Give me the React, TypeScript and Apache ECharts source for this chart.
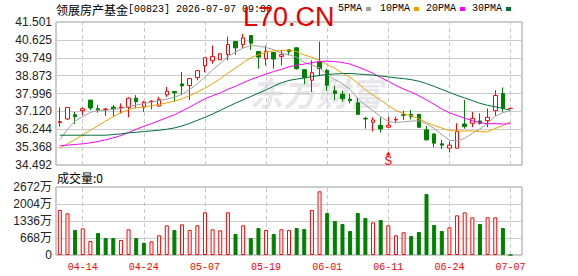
import React, { useEffect, useRef } from 'react';
import * as echarts from 'echarts';

const dates = ['04-09','04-10','04-13','04-14','04-15','04-16','04-17','04-20','04-21','04-22','04-23','04-24','04-27','04-28','04-29','04-30','05-04','05-05','05-06','05-07','05-08','05-11','05-12','05-13','05-14','05-15','05-18','05-19','05-20','05-21','05-22','05-26','05-27','05-28','05-29','06-01','06-02','06-03','06-04','06-05','06-08','06-09','06-10','06-11','06-12','06-15','06-16','06-17','06-18','06-22','06-23','06-24','06-25','06-26','06-29','06-30','07-02','07-03','07-06','07-07'];

const opens = [36.569,36.747,36.958,37.153,37.672,37.250,37.218,37.331,37.299,37.315,
  37.769,37.347,37.591,37.380,37.932,38.094,38.467,38.386,38.775,39.359,
  39.603,39.651,39.911,40.544,40.398,40.836,40.057,39.700,40.008,39.814,
  40.138,40.236,39.165,38.646,39.538,39.132,38.126,37.964,37.721,37.542,
  36.780,36.585,36.439,36.342,36.699,36.958,36.974,36.974,36.212,36.017,
  35.530,35.319,35.319,36.504,36.536,36.650,36.666,37.153,37.997,37.266];
const closes = [36.617,37.315,36.861,37.250,37.283,37.185,37.234,37.234,37.331,37.769,
  37.591,37.575,37.623,37.704,38.110,38.029,38.370,38.727,39.116,39.749,
  39.814,39.944,40.398,40.236,40.722,40.463,39.781,40.057,39.684,39.895,
  40.057,39.213,38.775,39.019,39.213,38.402,37.997,37.737,37.640,36.974,
  36.747,36.699,36.260,36.439,36.731,36.926,36.861,36.342,35.725,35.563,
  35.465,35.465,36.131,36.374,36.780,36.536,36.828,37.899,37.266,37.266];
const lows = [36.374,36.699,36.504,36.926,37.185,37.055,36.893,36.893,37.023,36.828,
  37.266,37.104,37.218,37.347,37.834,37.591,37.915,37.672,38.646,39.035,
  39.457,39.651,39.619,39.895,40.187,40.138,39.213,39.376,39.213,39.376,
  39.862,39.165,38.451,38.078,38.840,38.126,37.672,37.591,37.510,36.958,
  36.277,36.131,36.082,36.326,36.536,36.699,36.731,36.326,35.692,35.368,
  35.271,35.108,35.303,36.277,36.342,36.471,36.342,36.893,37.104,37.266];
const highs = [37.315,37.331,37.088,37.315,37.690,37.429,37.283,37.429,37.510,37.802,
  37.915,37.640,37.672,37.834,38.321,38.126,39.051,38.743,39.132,39.765,
  40.349,39.960,40.787,40.560,40.917,40.852,40.073,40.349,40.024,40.138,
  40.171,40.268,39.181,39.619,40.544,39.213,38.370,38.126,37.964,37.786,
  36.861,36.828,36.828,36.861,36.861,37.153,37.185,36.990,36.406,36.033,
  35.725,35.644,36.536,37.672,37.088,37.023,37.266,38.159,38.289,37.266];

const ma5 = [35.725,36.244,36.650,36.861,37.065,37.179,37.163,37.237,37.253,37.351,
  37.432,37.500,37.578,37.653,37.721,37.808,37.967,38.188,38.470,38.798,
  39.155,39.470,39.804,40.028,40.223,40.352,40.320,40.252,40.141,39.976,
  39.895,39.781,39.525,39.392,39.256,38.925,38.681,38.474,38.198,37.750,
  37.419,37.159,36.864,36.624,36.575,36.611,36.643,36.660,36.517,36.283,
  35.991,35.712,35.670,35.800,36.043,36.257,36.530,36.883,37.062,37.159];
const ma10 = [35.319,35.530,35.741,35.968,36.196,36.423,36.650,36.861,37.055,37.208,
  37.305,37.331,37.408,37.453,37.536,37.620,37.734,37.883,38.061,38.259,
  38.482,38.719,38.996,39.249,39.510,39.754,39.895,40.028,40.085,40.099,
  40.124,40.051,39.888,39.767,39.616,39.410,39.231,38.999,38.795,38.503,
  38.172,37.920,37.669,37.411,37.163,37.015,36.901,36.762,36.570,36.429,
  36.301,36.178,36.165,36.158,36.163,36.124,36.121,36.277,36.431,36.601];
const ma20 = [35.433,35.465,35.498,35.530,35.579,35.644,35.725,35.822,35.936,36.082,
  36.244,36.390,36.520,36.666,36.812,36.958,37.137,37.331,37.542,37.734,
  37.893,38.025,38.202,38.351,38.523,38.687,38.814,38.955,39.073,39.179,
  39.303,39.385,39.442,39.508,39.563,39.582,39.563,39.514,39.440,39.301,
  39.148,38.985,38.779,38.589,38.389,38.212,38.066,37.880,37.683,37.466,
  37.236,37.049,36.917,36.784,36.663,36.569,36.511,36.519,36.501,36.515];
const ma30 = [35.952,35.952,35.952,35.952,35.952,35.952,35.952,35.985,36.017,36.066,
  36.098,36.131,36.163,36.196,36.244,36.309,36.406,36.536,36.682,36.828,
  36.991,37.169,37.348,37.526,37.688,37.850,38.013,38.175,38.353,38.522,
  38.637,38.701,38.764,38.822,38.887,38.928,38.954,38.970,38.980,38.954,
  38.926,38.897,38.852,38.809,38.762,38.727,38.676,38.597,38.483,38.344,
  38.199,38.050,37.907,37.779,37.648,37.516,37.417,37.346,37.265,37.177];

// volume in 万
const volumes = [1768,1638,983,1048,550,865,668,668,590,1009,
  668,485,537,773,1166,983,1205,983,1166,1677,
  1009,969,1677,825,1166,668,1061,983,825,1009,
  983,1061,1022,1768,2502,1651,1336,1218,943,1651,
  1454,1284,1376,1166,773,891,747,904,2397,1179,
  943,1087,1559,1677,1480,1218,1480,1480,1061,0];
const volumeUp = [1,1,0,1,1,0,0,0,1,1,
  0,0,1,1,1,0,1,1,1,1,
  1,1,1,0,1,0,0,1,0,1,
  1,0,0,1,1,0,0,0,0,0,
  0,1,0,1,1,1,0,0,0,0,
  0,1,1,1,1,0,1,1,0,0];

const priceTicks = ['34.492','35.368','36.244','37.120','37.996','38.873','39.749','40.625','41.501'];
const priceMin = 34.492;
const priceMax = 41.501;
const volumeMax = 2672;
const volumeStep = 668;
const tickDates = ['04-14','04-24','05-07','05-19','06-01','06-11','06-24','07-07'];

const maNames = ['5PMA','10PMA','20PMA','30PMA'];
const maColors = ['#a0a0a0','#f2a000','#ff00ff','#00703a'];

const signalDates = ['06-11'];
const signalPrices = [35.06];
const signalLabels = ['S'];

const RED = '#ff0000';
const GREEN = '#008000';
const MONO = '"Liberation Mono", "DejaVu Sans Mono", monospace';
const CJK = '"Noto Sans CJK SC", sans-serif';
const SANS = 'Arial, "Liberation Sans", "Noto Sans CJK SC", sans-serif';

export default function App() {
  const ref = useRef<HTMLDivElement>(null);
  useEffect(() => {
    const chart = echarts.init(ref.current!, null, { renderer: 'svg' });
    const categories = [...dates, ''];
    const candleData = dates.map((_, i) => [opens[i], closes[i], lows[i], highs[i]]);
    const volData = volumes.map((v, i) => ({
      value: v,
      itemStyle: volumeUp[i]
        ? { color: '#ffffff', borderColor: RED, borderWidth: 1 }
        : { color: GREEN, borderColor: GREEN, borderWidth: 1 },
    }));
    const mas = [ma5, ma10, ma20, ma30];
    const vLines = {
      silent: true,
      symbol: ['none', 'none'],
      label: { show: false },
      z: 1,
      lineStyle: { color: '#c8c8c8', type: [4, 3], width: 1 },
      data: tickDates.map((d) => ({ xAxis: d })),
      animation: false,
    };
    const legendX = [338, 380, 426, 472];
    const legendW = [24, 30, 30, 30];
    const legendGraphics: any[] = [];
    maNames.forEach((n, i) => {
      legendGraphics.push({
        type: 'text', x: legendX[i], y: 8,
        style: { text: n, fill: '#000', font: `10px ${MONO}`, textVerticalAlign: 'middle' },
      });
      legendGraphics.push({
        type: 'rect', shape: { x: legendX[i] + legendW[i] + 4, y: 7, width: 5, height: 4 },
        style: { fill: maColors[i] },
      });
    });

    chart.setOption({
      animation: false,
      backgroundColor: '#ffffff',
      grid: [
        { left: 56, top: 22, width: 466, height: 143, show: true, borderColor: '#999', borderWidth: 1, backgroundColor: 'transparent' },
        { left: 56, top: 187, width: 466, height: 68, show: true, borderColor: '#999', borderWidth: 1, backgroundColor: 'transparent' },
      ],
      xAxis: [
        { type: 'category', gridIndex: 0, data: categories, boundaryGap: true,
          axisLine: { show: false }, axisTick: { show: false }, axisLabel: { show: false }, splitLine: { show: false } },
        { type: 'category', gridIndex: 1, data: categories, boundaryGap: true,
          axisLine: { show: false }, axisTick: { show: false }, splitLine: { show: false },
          axisLabel: { show: true, interval: (idx: number) => tickDates.includes(categories[idx]),
            color: RED, fontFamily: MONO, fontSize: 10, margin: 7 } },
      ],
      yAxis: [
        { type: 'value', gridIndex: 0, min: priceMin, max: priceMax, show: false, splitLine: { show: false } },
        { type: 'value', gridIndex: 0, min: 0, max: priceTicks.length - 1, interval: 1, position: 'left',
          axisLine: { show: false }, axisTick: { show: false },
          axisLabel: { formatter: (v: number) => priceTicks[Math.round(v)], color: '#222', fontFamily: SANS, fontSize: 12, margin: 4 },
          splitLine: { show: true, lineStyle: { color: '#cccccc', width: 1 } } },
        { type: 'value', gridIndex: 1, min: 0, max: volumeMax, interval: volumeStep, position: 'left',
          axisLine: { show: false }, axisTick: { show: false },
          axisLabel: { formatter: (v: number) => (v === 0 ? '0' : v + '万'), color: '#222', fontFamily: SANS, fontSize: 12, margin: 4 },
          splitLine: { show: true, lineStyle: { color: '#cccccc', width: 1 } } },
      ],
      series: [
        {
          type: 'candlestick', xAxisIndex: 0, yAxisIndex: 0, data: candleData, barWidth: 4,
          itemStyle: { color: '#ffffff', color0: GREEN, borderColor: RED, borderColor0: GREEN, borderWidth: 1 },
          markLine: vLines,
          markPoint: {
            silent: true,
            symbol: 'triangle', symbolSize: [5, 4],
            itemStyle: { color: RED },
            label: { show: true, position: 'bottom', distance: 0, color: RED, fontFamily: MONO, fontSize: 13 },
            data: signalDates.map((d, i) => ({ coord: [d, signalPrices[i]], value: signalLabels[i], label: { formatter: signalLabels[i] } })),
          },
        },
        ...mas.map((m, i) => ({
          type: 'line', name: maNames[i], xAxisIndex: 0, yAxisIndex: 0, data: m,
          showSymbol: false, symbol: 'none', smooth: false, silent: true,
          lineStyle: { color: maColors[i], width: 1 }, z: 3,
        })),
        {
          type: 'bar', xAxisIndex: 1, yAxisIndex: 2, data: volData, barWidth: 4,
          markLine: vLines,
        },
      ],
      graphic: [
        { type: 'text', x: 250, y: 92, z: -1, silent: true,
          style: { text: '东方财富', fill: 'rgba(200,200,210,0.45)', font: `italic bold 33px ${CJK}`, textVerticalAlign: 'middle' } },
        { type: 'text', x: 56, y: 9, style: { text: '领展房产基金', fill: '#000', font: `12px ${CJK}`, textVerticalAlign: 'middle' } },
        { type: 'text', x: 128, y: 9, style: { text: '[00823] 2026-07-07 09:30', fill: '#000', font: `10px ${MONO}`, textVerticalAlign: 'middle' } },
        { type: 'text', x: 243, y: 17, z: 10, style: { text: 'L70.CN', fill: '#e60000', font: `27px ${SANS}`, textVerticalAlign: 'middle' } },
        { type: 'text', x: 57, y: 177, style: { text: '成交量:0', fill: '#000', font: `12px ${CJK}`, textVerticalAlign: 'middle' } },
        ...legendGraphics,
      ],
    });
    return () => chart.dispose();
  }, []);
  return <div ref={ref} style={{ position: 'absolute', left: 0, top: 0, width: 578, height: 276 }} />;
}
